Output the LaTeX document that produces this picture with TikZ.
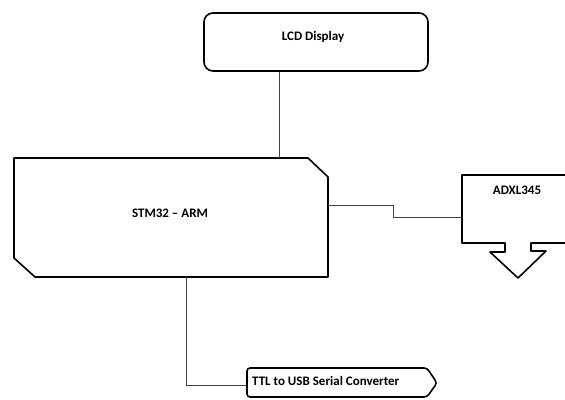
\documentclass[tikz,border=0pt]{standalone}
\usepackage{fontspec}
\setmainfont{Carlito}
\begin{document}
\begin{tikzpicture}[x=1pt,y=-1pt,
  outline/.style={draw=black,line width=1.6pt,line join=round},
  conn/.style={draw=black!75,line width=0.9pt},
  lbl/.style={font=\fontsize{13}{15}\selectfont\bfseries,inner sep=0pt},
  frame/.style={draw=none,inner sep=0pt}]
\useasboundingbox (0,0) rectangle (565,399);
\clip (0,0) rectangle (565,399);
\fill[white] (0,0) rectangle (565,399);
% LCD display
\node[outline,rounded corners=9pt,minimum width=224pt,minimum height=58pt,inner sep=0pt] (lcd) at (316,42) {};
\node[lbl] (lcdtext) at (313,37) {LCD Display};
% STM32 box (chamfered)
\node[frame,minimum width=314pt,minimum height=119pt] (stm) at (171,217.5) {};
\draw[outline] (14,158) -- (308,158) -- (328,177) -- (328,277) -- (35,277) -- (14,258) -- cycle;
\node[lbl] (stmtext) at (170,213) {STM32 -- ARM};
% ADXL345 callout
\node[frame,minimum width=110pt,minimum height=68pt] (adxl) at (517,209) {};
\draw[outline] (570,175) -- (462,175) -- (462,243) -- (505,243) -- (505,252) -- (490,252) -- (518,278) -- (546,251) -- (531,251) -- (531,243) -- (570,243);
\node[lbl] (adxltext) at (517,190) {ADXL345};
% TTL to USB converter
\node[frame,minimum width=190pt,minimum height=29pt] (ttl) at (342,383) {};
\draw[outline,rounded corners=3pt] (247,397) -- (247,368) -- (427,368) -- (437,383) -- (427,397) -- cycle;
\node[lbl,anchor=west] (ttltext) at (252,381) {TTL to USB Serial Converter};
% connectors
\draw[conn] ([xshift=-37pt]lcd.south) -- ([xshift=-37pt]lcd.south |- stm.north);
\draw[conn] ([yshift=12.5pt]stm.east) -- ++(65,0) |- (adxl.west |- stm.east);
\draw[conn] ([xshift=15pt]stm.south) |- ([yshift=-2pt]ttl.west);
\end{tikzpicture}
\end{document}
